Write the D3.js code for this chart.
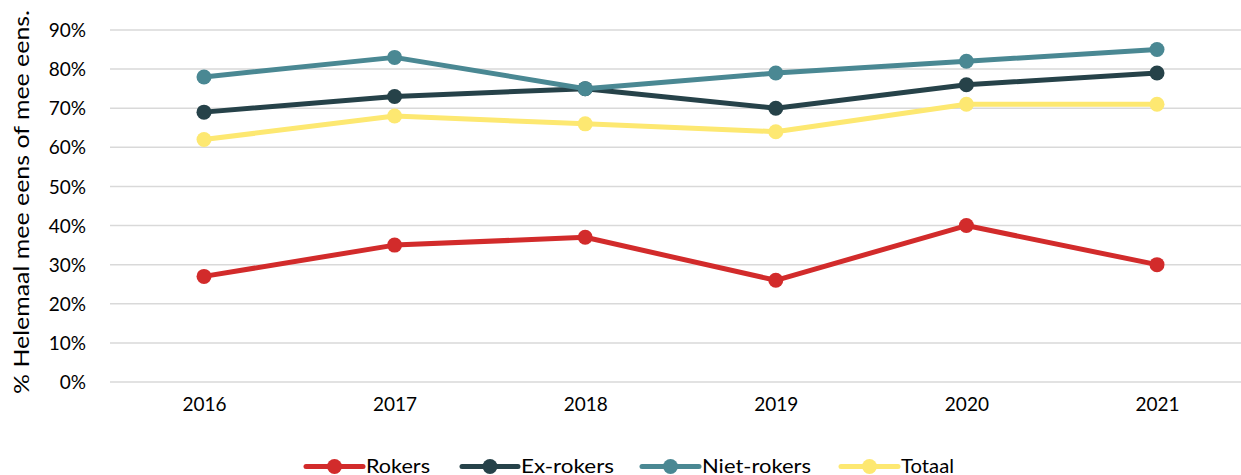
<!DOCTYPE html>
<html><head><meta charset="utf-8">
<script src="https://cdn.jsdelivr.net/npm/d3@7"></script>
<style>body{margin:0;background:#fff}svg{display:block}text{font-family:Lato,"Open Sans",sans-serif;fill:#000}</style>
</head><body><svg id="c" width="1241" height="475"></svg>
<script>
const years = ["2016","2017","2018","2019","2020","2021"];
const rokers = [27,35,37,26,40,30];
const exRokers = [69,73,75,70,76,79];
const nietRokers = [78,83,75,79,82,85];
const totaal = [62,68,66,64,71,71];
const seriesNames = ["Rokers","Ex-rokers","Niet-rokers","Totaal"];
const yTicks = [0,10,20,30,40,50,60,70,80,90];
const colors = ["#D22B2B","#264249","#4A8893","#FDE871"];
const seriesVals = [rokers, exRokers, nietRokers, totaal];

const svg = d3.select("#c");
const x = d3.scalePoint().domain(years).range([204,1157]);
const y = d3.scaleLinear().domain([0,90]).range([382,30]);

const yAxis = d3.axisLeft(y).tickValues(yTicks).tickFormat(d=>d+"%").tickSize(0).tickPadding(24);
const gy = svg.append("g").attr("transform","translate(110,0)").call(yAxis);
gy.select(".domain").remove();
gy.selectAll("text").attr("font-size",19).attr("dy","0.35em");
svg.append("g").selectAll("line").data(yTicks).join("line")
  .attr("x1",110).attr("x2",1241).attr("y1",d=>y(d)).attr("y2",d=>y(d))
  .attr("stroke","#d9d9d9").attr("stroke-width",1.5);

const xAxis = d3.axisBottom(x).tickSize(0).tickPadding(16);
const gx = svg.append("g").attr("transform","translate(0,382)").call(xAxis);
gx.select(".domain").remove();
gx.selectAll("text").attr("font-size",19);

svg.append("text").attr("transform","translate(29,202) rotate(-90)")
  .attr("text-anchor","middle").attr("font-size",21)
  .attr("textLength",384).attr("lengthAdjust","spacingAndGlyphs")
  .text("% Helemaal mee eens of mee eens.");

const line = d3.line().x((d,i)=>x(years[i])).y(d=>y(d));
seriesVals.forEach((vals,k)=>{
  const g = svg.append("g");
  g.append("path").datum(vals).attr("d",line).attr("fill","none")
    .attr("stroke",colors[k]).attr("stroke-width",5).attr("stroke-linejoin","round");
  g.selectAll("circle").data(vals).join("circle")
    .attr("cx",(d,i)=>x(years[i])).attr("cy",d=>y(d)).attr("r",7.5).attr("fill",colors[k]);
});

const legX = [306,462,642,841];
const legW = [57,56,57,57];
const legTW = [64,93,109,53];
const lg = svg.append("g");
seriesNames.forEach((n,k)=>{
  const cx = legX[k]+legW[k]/2;
  lg.append("line").attr("x1",legX[k]).attr("x2",legX[k]+legW[k]).attr("y1",466.5).attr("y2",466.5)
    .attr("stroke",colors[k]).attr("stroke-width",5).attr("stroke-linecap","round");
  lg.append("circle").attr("cx",cx).attr("cy",466.5).attr("r",7.5).attr("fill",colors[k]);
  lg.append("text").attr("x",legX[k]+legW[k]+3).attr("y",473)
    .attr("font-size",20).attr("textLength",legTW[k]).attr("lengthAdjust","spacingAndGlyphs").text(n);
});
</script></body></html>
